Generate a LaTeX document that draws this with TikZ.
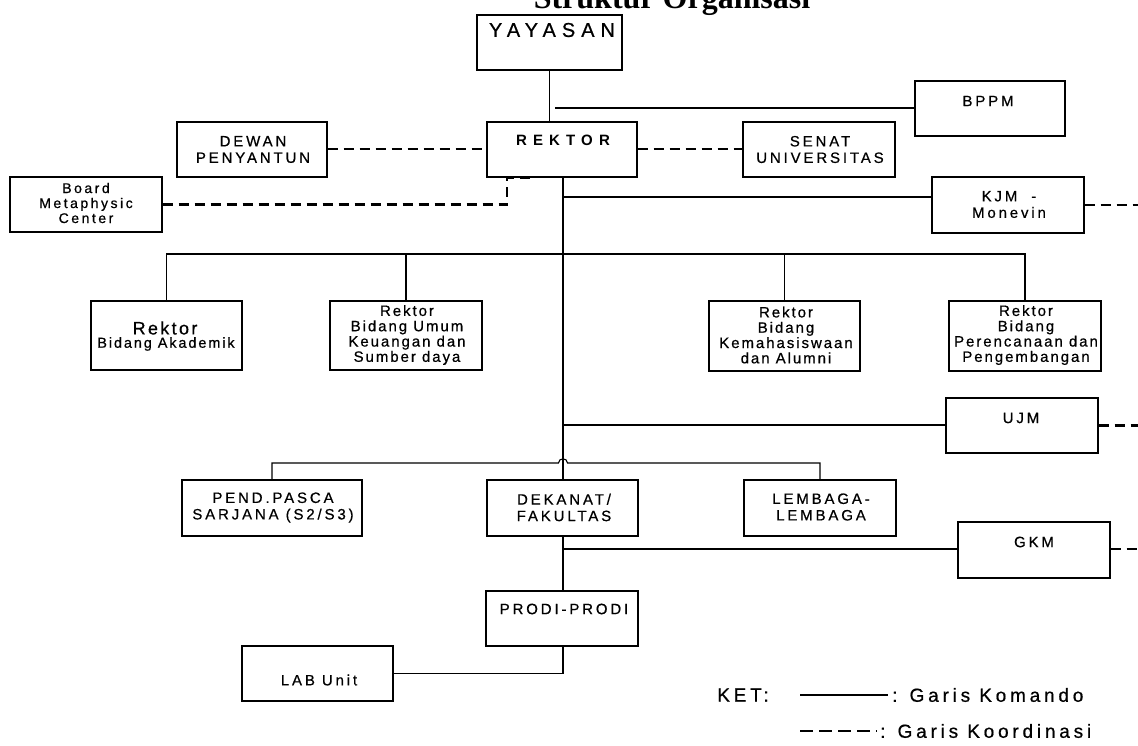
\documentclass[tikz,border=0pt]{standalone}
\usepackage{fontspec}
\setmainfont{Liberation Sans}
\newfontfamily\fY{Liberation Sans}[LetterSpace=30,FakeBold=0.6]
\newfontfamily\fR{Liberation Sans}[LetterSpace=41]
\newfontfamily\fC{Liberation Sans}[LetterSpace=19,FakeBold=0.6]
\newfontfamily\fB{Liberation Sans}[LetterSpace=13,FakeBold=0.6]
\newfontfamily\fM{Liberation Sans}[LetterSpace=18,FakeBold=0.6]
\newfontfamily\fL{Liberation Sans}[LetterSpace=20,FakeBold=0.6]
\newfontfamily\fT{Liberation Serif}
\usetikzlibrary{fit}
\begin{document}
\begin{tikzpicture}[x=1pt,y=-1pt,
  box/.style={draw, line width=1.3pt, inner sep=0pt},
  conn/.style={line width=1.1pt},
  coordline/.style={line width=2.6pt, dash pattern=on 10pt off 6pt},
  tcap/.style={font=\fC\fontsize{15}{16.5}\selectfont, align=center, inner sep=0pt},
  tbid/.style={font=\fB\fontsize{15}{15.3}\selectfont, align=center, inner sep=0pt},
  tboard/.style={font=\fM\fontsize{14}{15}\selectfont, align=center, inner sep=0pt},
  tleg/.style={font=\fL\fontsize{19}{20}\selectfont, inner sep=0pt}]
\useasboundingbox (0,0) rectangle (1138,746);
\fill[white] (0,0) rectangle (1138,746);

% title
\node[font=\fT\bfseries\fontsize{32}{36}\selectfont, anchor=base, inner sep=0pt] (title) at (672,9) {Struktur Organisasi};

% boxes
\node[box, fit={(477,15) (622,70)}] (yay) {};
\node[box, fit={(915,81) (1065,136)}] (bppm) {};
\node[box, fit={(177,122) (327,177)}] (dewan) {};
\node[box, fit={(487,122) (637,177)}] (rek) {};
\node[box, fit={(743,122) (895,177)}] (senat) {};
\node[box, fit={(10,177) (162,232)}] (board) {};
\node[box, fit={(932,177) (1084,233)}] (kjm) {};
\node[box, fit={(91,301) (242,370)}] (akad) {};
\node[box, fit={(330,301) (482,370)}] (umum) {};
\node[box, fit={(709,301) (860,371)}] (kema) {};
\node[box, fit={(949,301) (1101,371)}] (renc) {};
\node[box, fit={(946,398) (1098,453)}] (ujm) {};
\node[box, fit={(182,480) (362,536)}] (pend) {};
\node[box, fit={(487,480) (638,536)}] (dek) {};
\node[box, fit={(744,480) (896,536)}] (lem) {};
\node[box, fit={(958,522) (1110,578)}] (gkm) {};
\node[box, fit={(486,591) (638,646)}] (prodi) {};
\node[box, fit={(242,646) (393,701)}] (lab) {};

% texts
\node[font=\fY\fontsize{20}{22}\selectfont, inner sep=0pt] (yayT) at (552,30) {YAYASAN};
\node[tcap] (bppmT) at (988,101) {BPPM};
\node[tcap] (dewanT) at (253,149.5) {DEWAN\\PENYANTUN};
\node[font=\fR\bfseries\fontsize{15}{16}\selectfont, inner sep=0pt] (rekT) at (563,140) {REKTOR};
\node[tcap] (senatT) at (820,149.5) {SENAT\\UNIVERSITAS};
\node[tboard] (boardT) at (86,203) {Board\\Metaphysic\\Center};
\node[tcap] (kjmT) at (1009,204.5) {KJM\ \ -\\Monevin};
\node[font=\fB\fontsize{18}{19}\selectfont, inner sep=0pt] (akadT1) at (165,328) {Rektor};
\node[font=\fB\fontsize{14.5}{15}\selectfont, inner sep=0pt] (akadT2) at (166,344) {Bidang Akademik};
\node[tbid] (umumT) at (407,335) {Rektor\\Bidang Umum\\Keuangan dan\\Sumber daya};
\node[tbid] (kemaT) at (786,335) {Rektor\\Bidang\\Kemahasiswaan\\dan Alumni};
\node[tbid] (rencT) at (1026,335) {Rektor\\Bidang\\Perencanaan dan\\Pengembangan};
\node[tcap] (ujmT) at (1021,418) {UJM};
\node[tcap] (pendT) at (273,507.5) {PEND.PASCA\\SARJANA (S2/S3)};
\node[tcap] (dekT) at (564,507.5) {DEKANAT/\\FAKULTAS};
\node[tcap] (lemT) at (821,507) {LEMBAGA-\\LEMBAGA};
\node[tcap] (gkmT) at (1034,542) {GKM};
\node[tcap] (prodiT) at (564,609) {PRODI-PRODI};
\node[tcap] (labT) at (319,680) {LAB Unit};

% helper coordinates
\coordinate (vx) at (563,0);
\coordinate (edge) at (1138,0);
\coordinate (bp) at (555,108);
\coordinate (vK) at (563,197);
\coordinate (hb) at (563,254);
\coordinate (vU) at (563,425);
\coordinate (br) at (563,463);
\coordinate (vG) at (563,549);
\coordinate (bd) at (507,0);
\coordinate (bd2) at (532,0);

% command lines
\draw[conn] (yay.south) -- (yay.south |- rek.north);
\draw[conn] (bp) -- (bp -| bppm.west);
\draw[conn] (rek.south -| vx) -- (dek.north -| vx);
\draw[conn] (vK) -- (vK -| kjm.west);
\draw[conn] (akad.north) -- (akad.north |- hb) -- (renc.north |- hb) -- (renc.north);
\draw[conn] (umum.north) -- (umum.north |- hb);
\draw[conn] (kema.north) -- (kema.north |- hb);
\draw[conn] (vU) -- (vU -| ujm.west);
\draw[conn] (pend.north) -- (pend.north |- br) -- ([xshift=-4.5pt]br)
   .. controls +(0,-5.5) and +(0,-5.5) .. ([xshift=4.5pt]br) -- (lem.north |- br) -- (lem.north);
\draw[conn] (dek.south -| vx) -- (prodi.north -| vx);
\draw[conn] (vG) -- (vG -| gkm.west);
\draw[conn] (prodi.south -| vx) |- (lab.east);

% coordination lines
\draw[coordline] (dewan.east |- 0,149) -- (rek.west |- 0,149);
\draw[coordline] (rek.east |- 0,149) -- (senat.west |- 0,149);
\draw[coordline] (board.east) -| (rek.south -| bd) -- (rek.south -| bd2);
\draw[coordline] (kjm.east) -- (kjm.east -| edge);
\draw[coordline] (ujm.east) -- (ujm.east -| edge);
\draw[coordline] (gkm.east |- 0,549) -- (edge |- 0,549);

% legend
\node[tleg] (ket) at (743,695) {KET:};
\coordinate (la) at (800,695);
\coordinate (lb) at (888,695);
\draw[conn] (la) -- (lb);
\node[tleg, anchor=west] (leg1) at (892,695) {: Garis Komando};
\coordinate (lc) at (800,731);
\coordinate (ld) at (877,731);
\draw[line width=2.6pt, dash pattern=on 13pt off 6pt] (lc) -- (ld);
\node[tleg, anchor=west] (leg2) at (880,731) {: Garis Koordinasi};
\end{tikzpicture}
\end{document}
